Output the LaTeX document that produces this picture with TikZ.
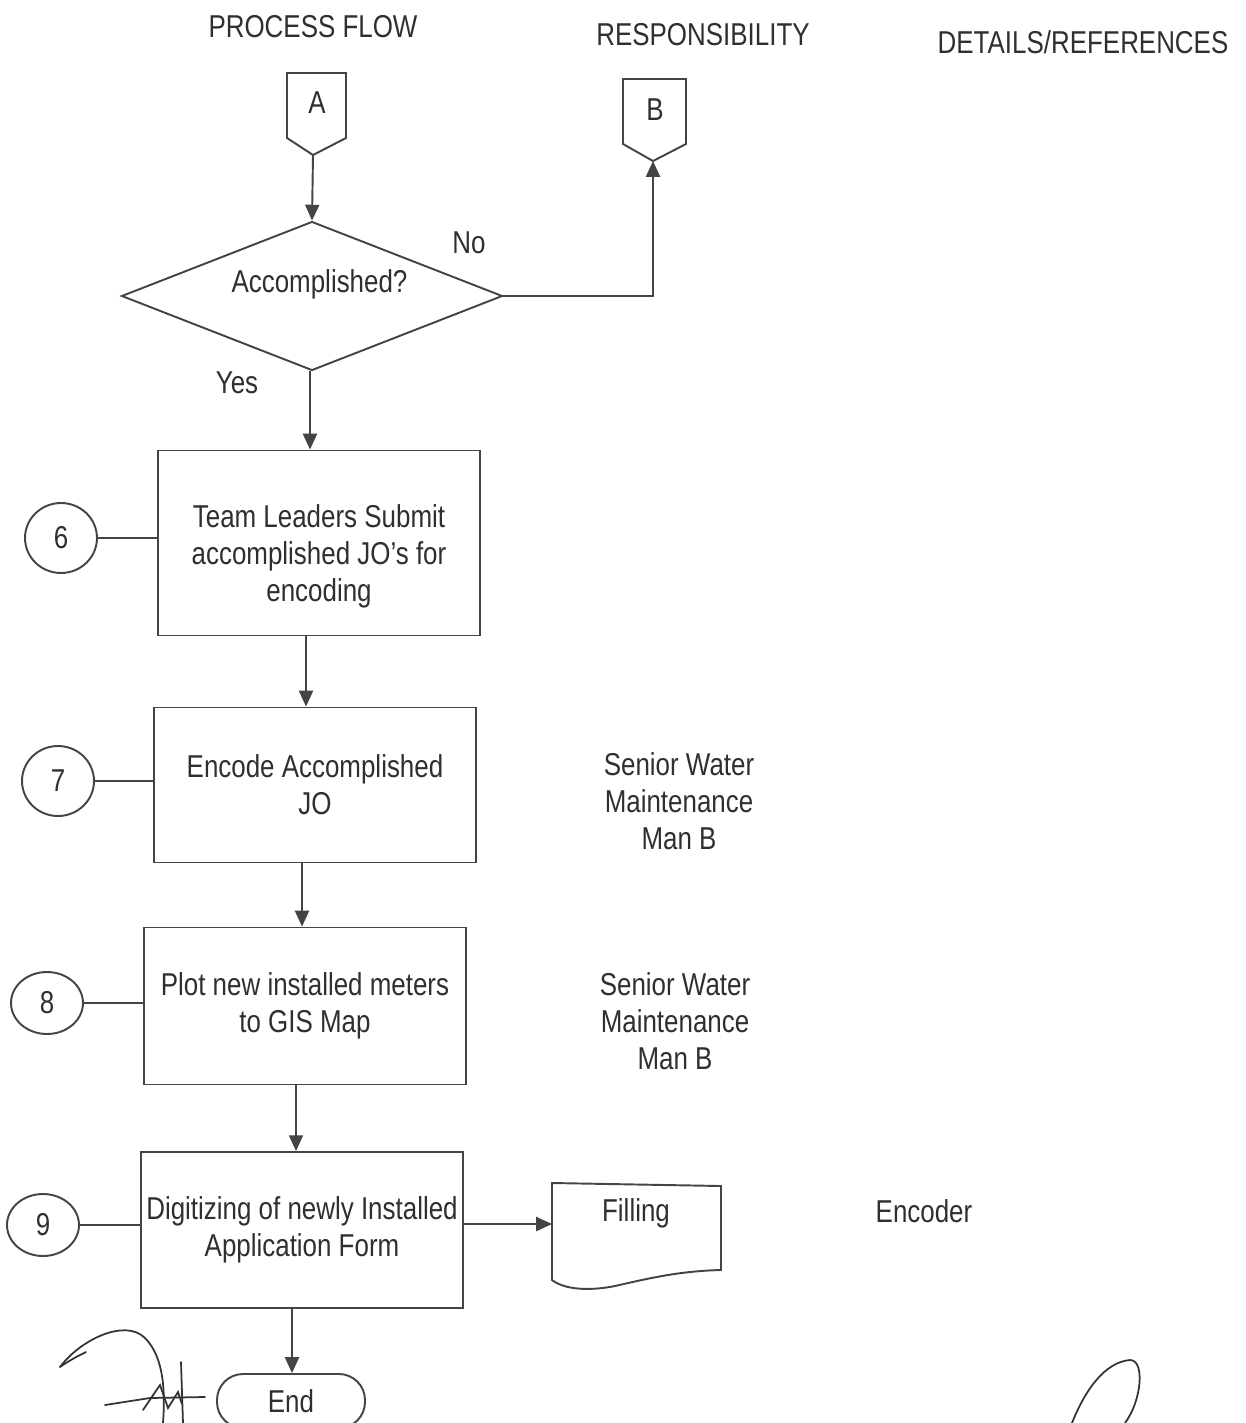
\documentclass[tikz,border=0pt]{standalone}
\usepackage{fontspec}
\setmainfont{Liberation Sans}[FakeStretch=0.82]
\usetikzlibrary{shapes.geometric,arrows.meta,positioning,calc}
\definecolor{inkgray}{HTML}{2F2F2F}
\definecolor{linegray}{HTML}{444444}

\begin{document}
\begin{tikzpicture}[x=0.02cm, y=-0.02cm,
    every node/.style={font=\fontsize{18}{21}\selectfont, text=inkgray},
    line/.style={draw=linegray, line width=1.1pt},
    flow/.style={line, -{Triangle[width=8pt,length=9pt]}},
    stepbox/.style={line, rectangle, minimum width=6.45cm, align=center, inner sep=2pt},
    numtag/.style={line, ellipse, minimum width=1.44cm, minimum height=1.3cm, inner sep=0pt},
    sign/.style={draw=black!80, line width=1pt, line cap=round}]
  \useasboundingbox (0,0) rectangle (1246,1423);

  % column headings
  \node (hflow) at (313,27) {PROCESS FLOW};
  \node (hresp) at (703,35) {RESPONSIBILITY};
  \node (hdet)  at (1083,42) {DETAILS/REFERENCES};

  % off-page connectors
  \node (offA) at (317,103) {A};
  \draw[line] (287,73) -- (346,73) -- (346,138) -- (313,155) -- (287,138) -- cycle;
  \coordinate (Atip) at (313,155);
  \node (offB) at (655,110) {B};
  \draw[line] (623,79) -- (686,79) -- (686,144) -- (653,161) -- (623,144) -- cycle;
  \coordinate (Btip) at (653,161);

  % decision
  \node[line, diamond, aspect=2.56, minimum width=7.62cm, minimum height=2.98cm, inner sep=0pt] (dec) at (312,296) {\rule[-17pt]{0pt}{0pt}\hspace{0.3cm}Accomplished?};
  \node (no)  at (469,243) {No};
  \node (yes) at (237,383) {Yes};

  % steps
  \node[stepbox, minimum height=3.7cm] (s6) at (319,543) {\rule{0pt}{28pt}Team Leaders Submit\\accomplished JO's for\\encoding};
  \node[stepbox, minimum height=3.1cm] (s7) at (315,785) {Encode Accomplished\\JO};
  \node[stepbox, minimum height=3.14cm] (s8) at (305,1006) {Plot new installed meters\\to GIS Map};
  \node[stepbox, minimum height=3.12cm] (s9) at (302,1230) {Digitizing of newly Installed\\Application Form};

  \node[numtag, minimum height=1.4cm] (c6) at (61,538) {6};
  \node[numtag, minimum height=1.4cm] (c7) at (58,781) {7};
  \node[numtag, minimum height=1.24cm] (c8) at (47,1003) {8};
  \node[numtag, minimum height=1.24cm] (c9) at (43,1225) {9};

  % responsibility
  \node[align=center] (r7) at (679,801) {Senior Water\\Maintenance\\Man B};
  \node[align=center] (r8) at (675,1021) {Senior Water\\Maintenance\\Man B};
  \node (r9) at (924,1211) {Encoder};

  % filing document
  \draw[line] (552,1183) -- (721,1186) -- (721,1270)
    .. controls (680,1271) and (650,1278) .. (615,1286)
    .. controls (590,1291) and (565,1290) .. (552,1280) -- cycle;
  \node (file) at (636,1213) {Filling};
  \coordinate (filein) at (552,1224);

  % terminator
  \node[line, rectangle, rounded corners=0.52cm, minimum width=2.96cm, minimum height=1.08cm] (stop) at (291,1401) {End};

  % connectors
  \draw[flow] (Atip) -- (dec.north);
  \draw[flow] (dec.east) -| (Btip);
  \draw[flow] ([xshift=-0.04cm]dec.south) -- ([xshift=-0.04cm]dec.south |- s6.north);
  \draw[flow] ([xshift=-0.26cm]s6.south) -- ([xshift=-0.26cm]s6.south |- s7.north);
  \draw[flow] ([xshift=-0.26cm]s7.south) -- ([xshift=-0.26cm]s7.south |- s8.north);
  \draw[flow] ([xshift=-0.18cm]s8.south) -- ([xshift=-0.18cm]s8.south |- s9.north);
  \draw[flow] ([xshift=-0.2cm]s9.south) -- ([xshift=-0.2cm]s9.south |- stop.north);
  \draw[flow] (s9.east |- filein) -- (filein);
  \draw[line] (c6) -- (c6 -| s6.west);
  \draw[line] (c7) -- (c7 -| s7.west);
  \draw[line] (c8) -- (c8 -| s8.west);
  \draw[line] (c9) -- (c9 -| s9.west);

  % signatures
  \draw[sign] (60,1367) .. controls (80,1340) and (125,1318) .. (145,1338)
    .. controls (165,1358) and (165,1395) .. (163,1423);
  \draw[sign] (60,1367) .. controls (70,1360) and (78,1356) .. (86,1352);
  \draw[sign] (105,1405) -- (150,1398) -- (205,1397);
  \draw[sign] (143,1410) -- (160,1385) -- (168,1408) -- (178,1392) -- (182,1404);
  \draw[sign] (181,1362) -- (183,1423);
  \draw[sign] (1072,1423) .. controls (1085,1390) and (1105,1362) .. (1130,1360)
    .. controls (1145,1360) and (1142,1400) .. (1125,1423);
\end{tikzpicture}
\end{document}
